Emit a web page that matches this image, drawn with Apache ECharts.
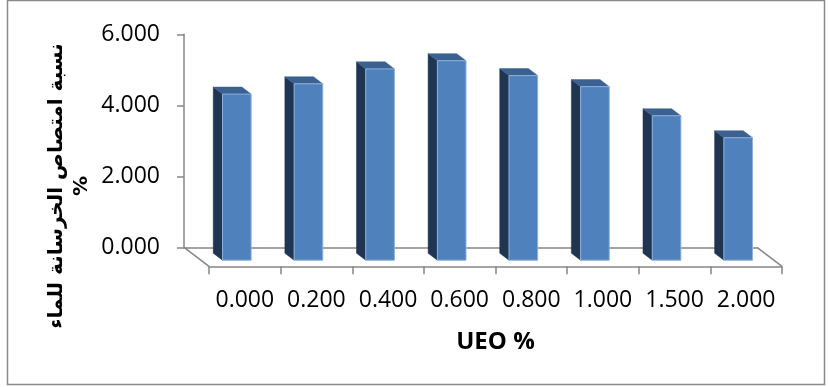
<!DOCTYPE html>
<html>
<head>
<meta charset="utf-8">
<script src="https://cdn.jsdelivr.net/npm/echarts@6/dist/echarts.min.js"></script>
<style>
  html, body { margin: 0; padding: 0; background: #ffffff; }
  #chart { width: 828px; height: 387px; }
</style>
</head>
<body>
<div id="chart"></div>
<script>
// UEO dosage (%) on the category axis
const categories = ['0.000', '0.200', '0.400', '0.600', '0.800', '1.000', '1.500', '2.000'];
// concrete water absorption (%)
const absorption = [4.68, 4.97, 5.39, 5.62, 5.20, 4.89, 4.07, 3.45];
// value axis range
const yMin = 0;
const yMax = 6;
const yStep = 2;

const xTitle = 'UEO %';
const yTitle = 'نسبة امتصاص الخرسانة للماء\n%';

// oblique 3D look: the floor recedes up and to the left
const FLOOR_DX = -25;
const FLOOR_DY = -19;
const BAR_FRONT = 0.32;   // fraction of floor depth where the bar's front face sits
const BAR_BACK = 0.69;    // fraction of floor depth where the bar's back face sits
const BAR_RATIO = 0.4;    // bar width as share of category band

const FRONT = { left: 209, top: 53.3, width: 573, height: 213 };
const WALL = {
  left: FRONT.left + FLOOR_DX, top: FRONT.top + FLOOR_DY,
  width: FRONT.width, height: FRONT.height
};

const axisGray = '#868686';
const labelFont = { fontFamily: 'Open Sans', fontSize: 23, color: '#000000' };

function renderBar(params, api) {
  const i = api.value(0);
  const v = api.value(1);
  const base = api.coord([i, 0]);
  const top = api.coord([i, v]);
  const bw = api.size([1, 0])[0] * BAR_RATIO;
  const fdx = FLOOR_DX * BAR_FRONT, fdy = FLOOR_DY * BAR_FRONT;
  const ddx = FLOOR_DX * (BAR_BACK - BAR_FRONT), ddy = FLOOR_DY * (BAR_BACK - BAR_FRONT);
  const x0 = base[0] + fdx - bw / 2;
  const x1 = x0 + bw;
  const yt = top[1] + fdy;
  const yb = base[1] + fdy;
  return {
    type: 'group',
    children: [
      {
        type: 'polygon',
        shape: { points: [[x0, yt], [x0 + ddx, yt + ddy], [x0 + ddx, yb + ddy], [x0, yb]] },
        style: { fill: '#1f3552', stroke: '#1f3552', lineWidth: 0.5 }
      },
      {
        type: 'polygon',
        shape: { points: [[x0, yt], [x1, yt], [x1 + ddx, yt + ddy], [x0 + ddx, yt + ddy]] },
        style: { fill: '#3a6190', stroke: '#3a6190', lineWidth: 0.5 }
      },
      {
        type: 'rect',
        shape: { x: x0, y: yt, width: bw, height: yb - yt },
        style: { fill: '#4f81bd', stroke: '#8fb1dc', lineWidth: 1 }
      }
    ]
  };
}

function renderFloorSides(params, api) {
  const cs = params.coordSys;
  const yb = cs.y + cs.height;
  const st = { stroke: axisGray, lineWidth: 1.5 };
  return {
    type: 'group',
    children: [
      { type: 'line', shape: { x1: cs.x, y1: yb, x2: cs.x + FLOOR_DX, y2: yb + FLOOR_DY }, style: st },
      { type: 'line', shape: { x1: cs.x + cs.width, y1: yb, x2: cs.x + cs.width + FLOOR_DX, y2: yb + FLOOR_DY }, style: st }
    ]
  };
}

const chart = echarts.init(document.getElementById('chart'), null, { renderer: 'canvas' });

chart.setOption({
  animation: false,
  backgroundColor: '#ffffff',
  grid: [
    Object.assign({ containLabel: false }, WALL),
    Object.assign({ containLabel: false }, FRONT)
  ],
  xAxis: [
    {
      gridIndex: 0, type: 'category', data: categories,
      axisLine: { show: true, lineStyle: { color: axisGray, width: 1.5 } },
      axisTick: { show: false }, axisLabel: { show: false }, splitLine: { show: false }
    },
    {
      gridIndex: 1, type: 'category', data: categories,
      axisLine: { show: true, lineStyle: { color: axisGray, width: 1.5 } },
      axisTick: { show: true, alignWithLabel: false, length: 8, lineStyle: { color: axisGray, width: 1.5 } },
      axisLabel: Object.assign({ margin: 23, interval: 0 }, labelFont),
      name: xTitle, nameLocation: 'middle', nameGap: 64,
      nameTextStyle: { fontFamily: 'Open Sans', fontWeight: 'bold', fontSize: 24, color: '#000000' }
    }
  ],
  yAxis: [
    {
      gridIndex: 0, type: 'value', min: yMin, max: yMax, interval: yStep,
      axisLine: { show: true, lineStyle: { color: axisGray, width: 1.5 } },
      axisTick: { show: true, length: 7, lineStyle: { color: axisGray, width: 1.5 } },
      splitLine: { show: false },
      axisLabel: Object.assign({ margin: 24, formatter: v => v.toFixed(3) }, labelFont)
    },
    {
      gridIndex: 1, type: 'value', min: yMin, max: yMax, interval: yStep, show: false
    }
  ],
  graphic: [
    {
      type: 'rect', z: -1,
      shape: { x: 7.5, y: 0.5, width: 817, height: 384 },
      style: { fill: 'none', stroke: '#8a8a8a', lineWidth: 1.5 }
    },
    {
      type: 'text', x: 69, y: 186, rotation: Math.PI / 2,
      style: {
        text: yTitle, fontFamily: 'DejaVu Sans', fontWeight: 'bold', fontSize: 20,
        lineHeight: 25, fill: '#000000', align: 'center', verticalAlign: 'middle'
      }
    }
  ],
  series: [
    {
      type: 'custom', name: 'floor', xAxisIndex: 1, yAxisIndex: 1,
      renderItem: renderFloorSides, data: [[0, 0]], silent: true
    },
    {
      type: 'custom', name: 'absorption', xAxisIndex: 1, yAxisIndex: 1,
      renderItem: renderBar,
      encode: { x: 0, y: 1 },
      data: absorption.map((v, i) => [i, v])
    }
  ]
});
</script>
</body>
</html>
